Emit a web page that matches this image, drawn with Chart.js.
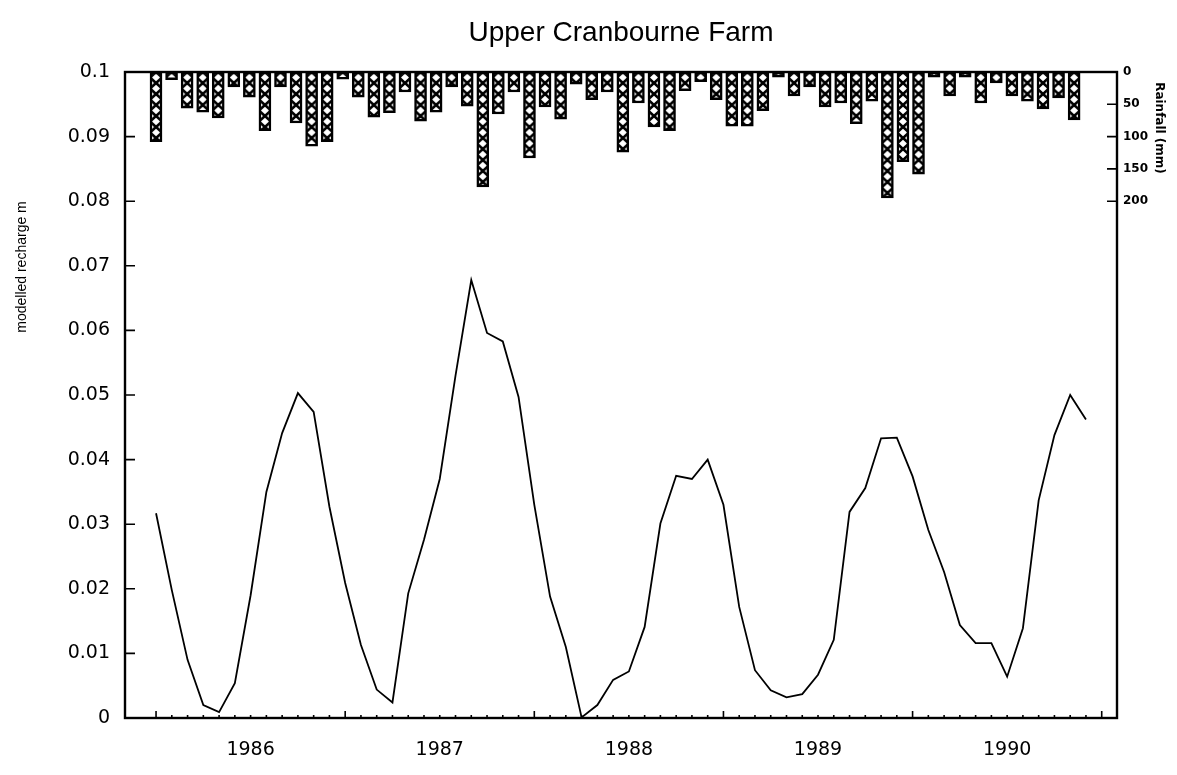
<!DOCTYPE html>
<html>
<head>
<meta charset="utf-8">
<title>Upper Cranbourne Farm</title>
<script src="https://cdn.jsdelivr.net/npm/chart.js@4.4.1/dist/chart.umd.min.js"></script>
<style>
  html, body { margin: 0; padding: 0; background: #fff; }
  #wrap { width: 1177px; height: 775px; position: relative; }
</style>
</head>
<body>
<div id="wrap"><canvas id="chart"></canvas></div>
<script>
// ------------------------------------------------------------
// Upper Cranbourne Farm — modelled recharge (line) with monthly
// rainfall hanging from the top (hatched bars, right axis).
// Values, Jan 1986 .. Dec 1990.
// ------------------------------------------------------------

// modelled recharge, m (one value per month)
const recharge = [
  0.0317, 0.0198, 0.0090, 0.0020, 0.0009, 0.0054, 0.0190, 0.0350, 0.0441, 0.0503, 0.0474, 0.0327,
  0.0209, 0.0113, 0.0044, 0.0024, 0.0193, 0.0276, 0.0370, 0.0530, 0.0678, 0.0596, 0.0583, 0.0497,
  0.0330, 0.0188, 0.0110, 0.0001, 0.0020, 0.0059, 0.0072, 0.0141, 0.0301, 0.0375, 0.0370, 0.0400,
  0.0330, 0.0172, 0.0074, 0.0043, 0.0032, 0.0037, 0.0067, 0.0121, 0.0319, 0.0356, 0.0433, 0.0434,
  0.0374, 0.0291, 0.0226, 0.0144, 0.0116, 0.0116, 0.0064, 0.0139, 0.0337, 0.0438, 0.0500, 0.0462,
];

// monthly rainfall, mm
const rainfall = [
  108, 12, 56, 62, 71, 23, 39, 91, 23, 79, 115, 108,
  11, 39, 70, 63, 31, 76, 62, 23, 53, 178, 65, 31,
  133, 54, 73, 19, 43, 31, 124, 48, 85, 91, 29, 15,
  43, 84, 84, 60, 8, 37, 23, 54, 48, 80, 45, 195,
  139, 158, 8, 37, 8, 48, 17, 37, 45, 57, 40, 74,
];

const yearLabels = ["1986", "1987", "1988", "1989", "1990"];
const yearLabelMonths = [6, 18, 30, 42, 54]; // labels sit mid-year
const rainTicks = [0, 50, 100, 150, 200];

const TICK_FONT = { family: "DejaVu Sans", size: 19 };
const HATCH_W = 12;
const HATCH_H = 11;

// one cross-hatch tile; each bar gets its own pattern shifted to its left edge
const hatchTile = (() => {
  const c = document.createElement("canvas");
  c.width = HATCH_W;
  c.height = HATCH_H;
  const g = c.getContext("2d");
  g.fillStyle = "#fff";
  g.fillRect(0, 0, HATCH_W, HATCH_H);
  g.strokeStyle = "#000";
  g.lineWidth = 2.6;
  g.beginPath();
  g.moveTo(-1, -1);
  g.lineTo(HATCH_W + 1, HATCH_H + 1);
  g.moveTo(HATCH_W + 1, -1);
  g.lineTo(-1, HATCH_H + 1);
  g.stroke();
  return c;
})();

function hatchFor(ctx) {
  const chart = ctx.chart;
  const pat = chart.ctx.createPattern(hatchTile, "repeat");
  const xs = chart.scales && chart.scales.xBar;
  const area = chart.chartArea;
  if (xs && area && ctx.raw && typeof ctx.raw.x === "number") {
    const left = xs.getPixelForValue(ctx.raw.x) - HATCH_W / 2;
    pat.setTransform(new DOMMatrix([1, 0, 0, 1, left, area.top]));
  }
  return pat;
}

// frame, inward tick marks, and the two axis titles that sit off-centre
const framePlugin = {
  id: "frame",
  afterDatasetsDraw(chart) {
    const { ctx, chartArea: a, scales } = chart;
    if (!a) return;
    ctx.save();
    ctx.strokeStyle = "#000";
    ctx.lineWidth = 2.4;
    ctx.strokeRect(a.left, a.top, a.right - a.left, a.bottom - a.top);

    ctx.lineWidth = 1.6;
    ctx.beginPath();
    scales.y.ticks.forEach((t) => {
      const p = scales.y.getPixelForValue(t.value);
      ctx.moveTo(a.left, p);
      ctx.lineTo(a.left + 10, p);
    });
    scales.yR.ticks.forEach((t) => {
      const p = scales.yR.getPixelForValue(t.value);
      ctx.moveTo(a.right, p);
      ctx.lineTo(a.right - 10, p);
    });
    for (let m = 0; m <= recharge.length; m++) {
      const p = scales.x.getPixelForValue(m);
      ctx.moveTo(p, a.bottom);
      ctx.lineTo(p, a.bottom - (m % 12 === 0 ? 7 : 3));
    }
    ctx.stroke();

    ctx.fillStyle = "#000";
    ctx.textAlign = "center";
    ctx.textBaseline = "middle";

    ctx.save();
    ctx.translate(22, a.top + 195);
    ctx.rotate(-Math.PI / 2);
    ctx.font = "14px 'Liberation Sans'";
    ctx.fillText("modelled recharge m", 0, 0);
    ctx.restore();

    ctx.save();
    ctx.translate(a.right + 42, a.top + 56);
    ctx.rotate(Math.PI / 2);
    ctx.font = "bold 12px 'DejaVu Sans'";
    ctx.fillText("Rainfall (mm)", 0, 0);
    ctx.restore();

    ctx.restore();
  },
};

Chart.defaults.color = "#000";
Chart.defaults.font.family = "DejaVu Sans";

new Chart(document.getElementById("chart"), {
  data: {
    datasets: [
      {
        type: "bar",
        label: "Rainfall",
        data: rainfall.map((r, i) => ({ x: i, y: r })),
        xAxisID: "xBar",
        yAxisID: "yR",
        backgroundColor: hatchFor,
        borderColor: "#000",
        borderWidth: 2.5,
        borderSkipped: false,
        barThickness: HATCH_W,
        order: 2,
      },
      {
        type: "line",
        label: "Recharge",
        data: recharge.map((v, i) => ({ x: i, y: v })),
        xAxisID: "x",
        yAxisID: "y",
        borderColor: "#000",
        borderWidth: 1.8,
        pointRadius: 0,
        tension: 0,
        fill: false,
        order: 1,
      },
    ],
  },
  options: {
    responsive: true,
    maintainAspectRatio: false,
    animation: false,
    layout: { padding: 0 },
    plugins: {
      legend: { display: false },
      tooltip: { enabled: false },
      title: {
        display: true,
        text: "Upper Cranbourne Farm",
        fullSize: false,
        color: "#000",
        font: { family: "Liberation Sans", size: 28, weight: "normal" },
        padding: { top: 16, bottom: 22.4 },
      },
    },
    scales: {
      x: {
        type: "linear",
        position: "bottom",
        offset: false,
        min: -1.97,
        max: 60.97,
        afterBuildTicks: (s) => { s.ticks = yearLabelMonths.map((v) => ({ value: v })); },
        afterFit: (s) => { s.height = 57; },
        grid: { display: false, drawTicks: false },
        border: { display: false },
        ticks: {
          autoSkip: false,
          maxRotation: 0,
          padding: 21,
          font: TICK_FONT,
          callback: (v, i) => yearLabels[i],
        },
      },
      // rainfall bars sit on their own month axis (slightly narrower spacing
      // than the recharge months in the original); laid out but kept invisible.
      // offset off: the bar default would pad the ends of the axis
      xBar: {
        type: "linear",
        position: "bottom",
        offset: false,
        min: -2.378,
        max: 61.37,
        afterFit: (s) => { s.height = 0; },
        grid: { display: false, drawTicks: false, offset: false },
        border: { display: false },
        ticks: { display: false },
      },
      y: {
        position: "left",
        min: 0,
        max: 0.1,
        afterFit: (s) => { s.width = 125; },
        grid: { display: false, drawTicks: false },
        border: { display: false },
        ticks: {
          stepSize: 0.01,
          padding: 15,
          font: TICK_FONT,
          callback: (v) => String(+v.toFixed(2)),
        },
      },
      yR: {
        position: "right",
        reverse: true,
        min: 0,
        max: 1000,
        afterBuildTicks: (s) => { s.ticks = rainTicks.map((v) => ({ value: v })); },
        afterFit: (s) => { s.width = 60; },
        grid: { display: false, drawTicks: false },
        border: { display: false },
        ticks: {
          padding: 6,
          font: { family: "DejaVu Sans", size: 12, weight: "bold" },
        },
      },
    },
  },
  plugins: [framePlugin],
});
</script>
</body>
</html>
